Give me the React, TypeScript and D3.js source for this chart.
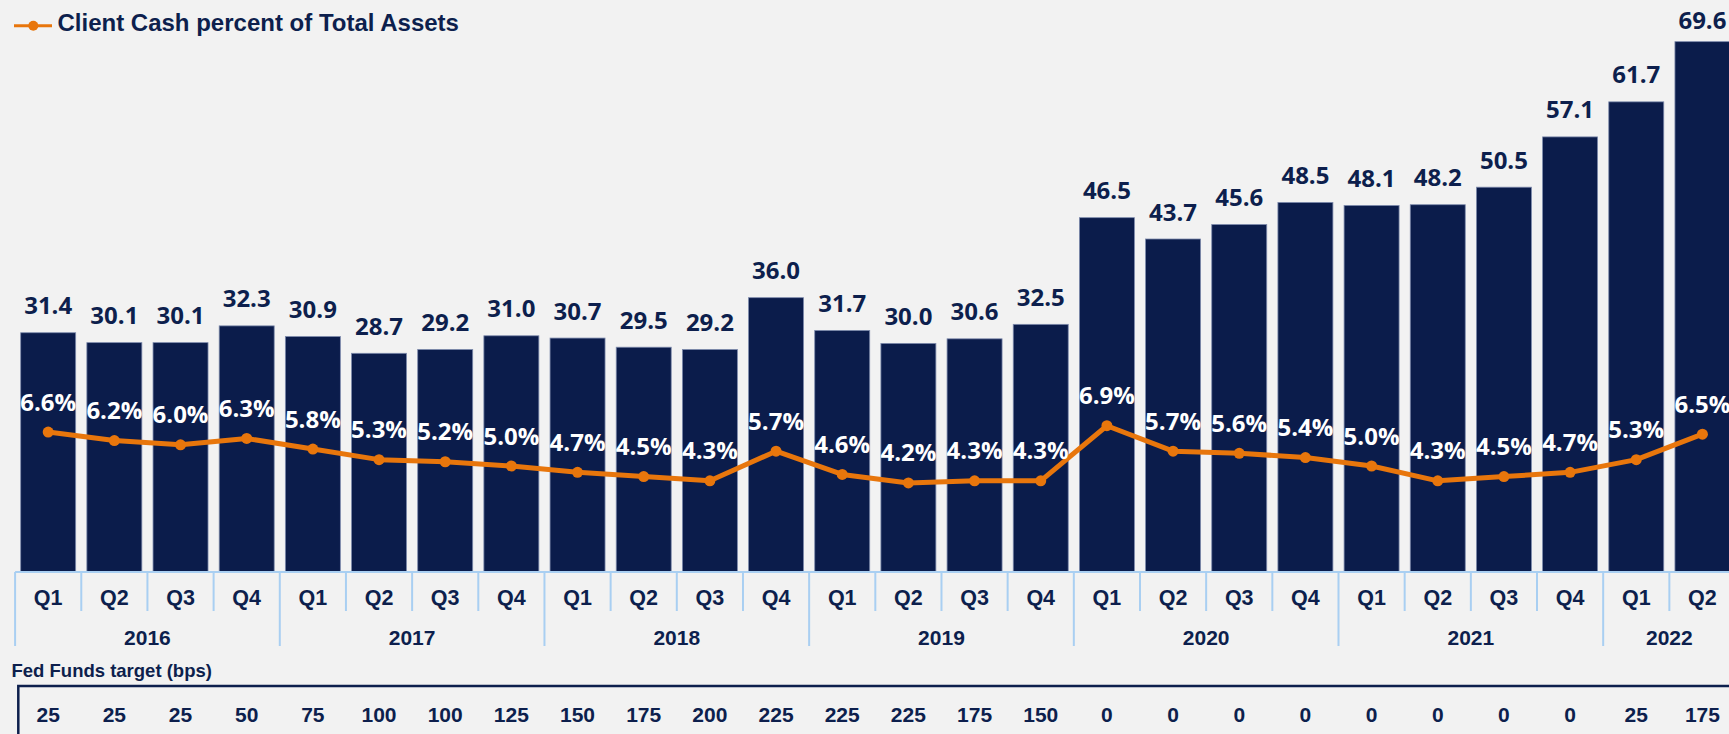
import { useEffect } from "react";
import * as d3 from "d3";

const W = 1729;
const H = 734;

const quarters = ["Q1", "Q2", "Q3", "Q4", "Q1", "Q2", "Q3", "Q4", "Q1", "Q2", "Q3", "Q4", "Q1", "Q2", "Q3", "Q4", "Q1", "Q2", "Q3", "Q4", "Q1", "Q2", "Q3", "Q4", "Q1", "Q2"];
const years = ["2016", "2017", "2018", "2019", "2020", "2021", "2022"];
const quartersPerYear = [4, 4, 4, 4, 4, 4, 2];

// client cash, $bn
const clientCash = [31.4, 30.1, 30.1, 32.3, 30.9, 28.7, 29.2, 31.0, 30.7, 29.5, 29.2, 36.0, 31.7, 30.0, 30.6, 32.5, 46.5, 43.7, 45.6, 48.5, 48.1, 48.2, 50.5, 57.1, 61.7, 69.6];
// client cash percent of total assets
const cashPct = [6.6, 6.2, 6.0, 6.3, 5.8, 5.3, 5.2, 5.0, 4.7, 4.5, 4.3, 5.7, 4.6, 4.2, 4.3, 4.3, 6.9, 5.7, 5.6, 5.4, 5.0, 4.3, 4.5, 4.7, 5.3, 6.5];
const fedFunds = [25, 25, 25, 50, 75, 100, 100, 125, 150, 175, 200, 225, 225, 225, 175, 150, 0, 0, 0, 0, 0, 0, 0, 0, 25, 175];

const navy = "#0b1c4b";
const textNavy = "#0d1f4d";
const orange = "#e8760c";
const axisBlue = "#a9cff2";

const App = () => {
  useEffect(() => {
    document.body.style.margin = "0";
    document.body.style.background = "#f2f2f2";
  }, []);

  const idx = d3.range(clientCash.length);
  const step = 66.17;
  const x0 = 15.1;
  const x = d3
    .scaleBand<number>()
    .domain(idx)
    .range([x0, x0 + step * idx.length])
    .paddingInner(0.169)
    .paddingOuter(0.0845);
  const cx = (i: number) => (x(i) as number) + x.bandwidth() / 2;

  const baseY = 572;
  const y = d3.scaleLinear().domain([0, 70]).range([baseY, baseY - 70 * 7.62]);
  const y2 = d3.scaleLinear().domain([0, 25]).range([baseY, baseY - 25 * 21.2]);

  const line = d3
    .line<number>()
    .x((_, i) => cx(i))
    .y((d) => y2(d));

  const boundaries = d3.range(idx.length + 1).map((i) => x0 + i * step);
  const yearStarts = d3.cumsum([0, ...quartersPerYear]);

  const valueFont = "'Open Sans', sans-serif";
  const axisFont = "'Liberation Sans', Arial, sans-serif";

  return (
    <svg width={W} height={H} style={{ position: "fixed", left: 0, top: 0, background: "#f2f2f2" }}>
      <rect width={W} height={H} fill="#f2f2f2" />

      {/* legend */}
      <line x1={14} x2={52} y1={25.7} y2={25.7} stroke={orange} strokeWidth={3} />
      <circle cx={33.3} cy={25.7} r={5} fill={orange} />
      <text x={57.5} y={31} fontFamily={axisFont} fontWeight="bold" fontSize={24} fill={textNavy}>
        Client Cash percent of Total Assets
      </text>

      {/* bars */}
      {clientCash.map((v, i) => (
        <rect
          key={"b" + i}
          x={x(i)}
          y={y(v)}
          width={x.bandwidth()}
          height={baseY - y(v)}
          fill={navy}
          stroke="#7d8aac"
          strokeWidth={0.8}
        />
      ))}
      {clientCash.map((v, i) => (
        <text
          key={"v" + i}
          x={cx(i)}
          y={Math.max(y(v) - 18.5, 28.5)}
          textAnchor="middle"
          fontFamily={valueFont}
          fontWeight="bold"
          fontSize={24}
          fill={textNavy}
        >
          {v.toFixed(1)}
        </text>
      ))}

      {/* line */}
      <path d={line(cashPct) || ""} fill="none" stroke={orange} strokeWidth={5} strokeLinejoin="round" />
      {cashPct.map((v, i) => (
        <circle key={"p" + i} cx={cx(i)} cy={y2(v)} r={5.5} fill={orange} />
      ))}
      {cashPct.map((v, i) => (
        <text
          key={"l" + i}
          x={cx(i)}
          y={y2(v) - 21.5}
          textAnchor="middle"
          fontFamily={valueFont}
          fontWeight="bold"
          fontSize={24}
          fill="#ffffff"
        >
          {v.toFixed(1)}%
        </text>
      ))}

      {/* category axis */}
      <line x1={x0} x2={W} y1={baseY} y2={baseY} stroke={axisBlue} strokeWidth={2} />
      {boundaries.map((bx, i) => (
        <line
          key={"t" + i}
          x1={bx}
          x2={bx}
          y1={baseY}
          y2={yearStarts.includes(i) ? 646 : 611}
          stroke={axisBlue}
          strokeWidth={2}
        />
      ))}
      {quarters.map((q, i) => (
        <text key={"q" + i} x={cx(i)} y={605} textAnchor="middle" fontFamily={axisFont} fontWeight="bold" fontSize={21.5} fill={textNavy}>
          {q}
        </text>
      ))}
      {years.map((yr, k) => {
        const a = boundaries[yearStarts[k]];
        const b = boundaries[yearStarts[k + 1]];
        return (
          <text key={"y" + k} x={(a + b) / 2} y={645} textAnchor="middle" fontFamily={axisFont} fontWeight="bold" fontSize={21} fill={textNavy}>
            {yr}
          </text>
        );
      })}

      {/* fed funds table */}
      <text x={11.5} y={677} fontFamily={axisFont} fontWeight="bold" fontSize={18.5} fill={textNavy}>
        Fed Funds target (bps)
      </text>
      <path d={`M18.3,${H + 5}V686H${W + 5}`} fill="none" stroke={textNavy} strokeWidth={2.5} />
      {fedFunds.map((v, i) => (
        <text key={"f" + i} x={cx(i)} y={721.5} textAnchor="middle" fontFamily={axisFont} fontWeight="bold" fontSize={21} fill={textNavy}>
          {v}
        </text>
      ))}
    </svg>
  );
};

export default App;
